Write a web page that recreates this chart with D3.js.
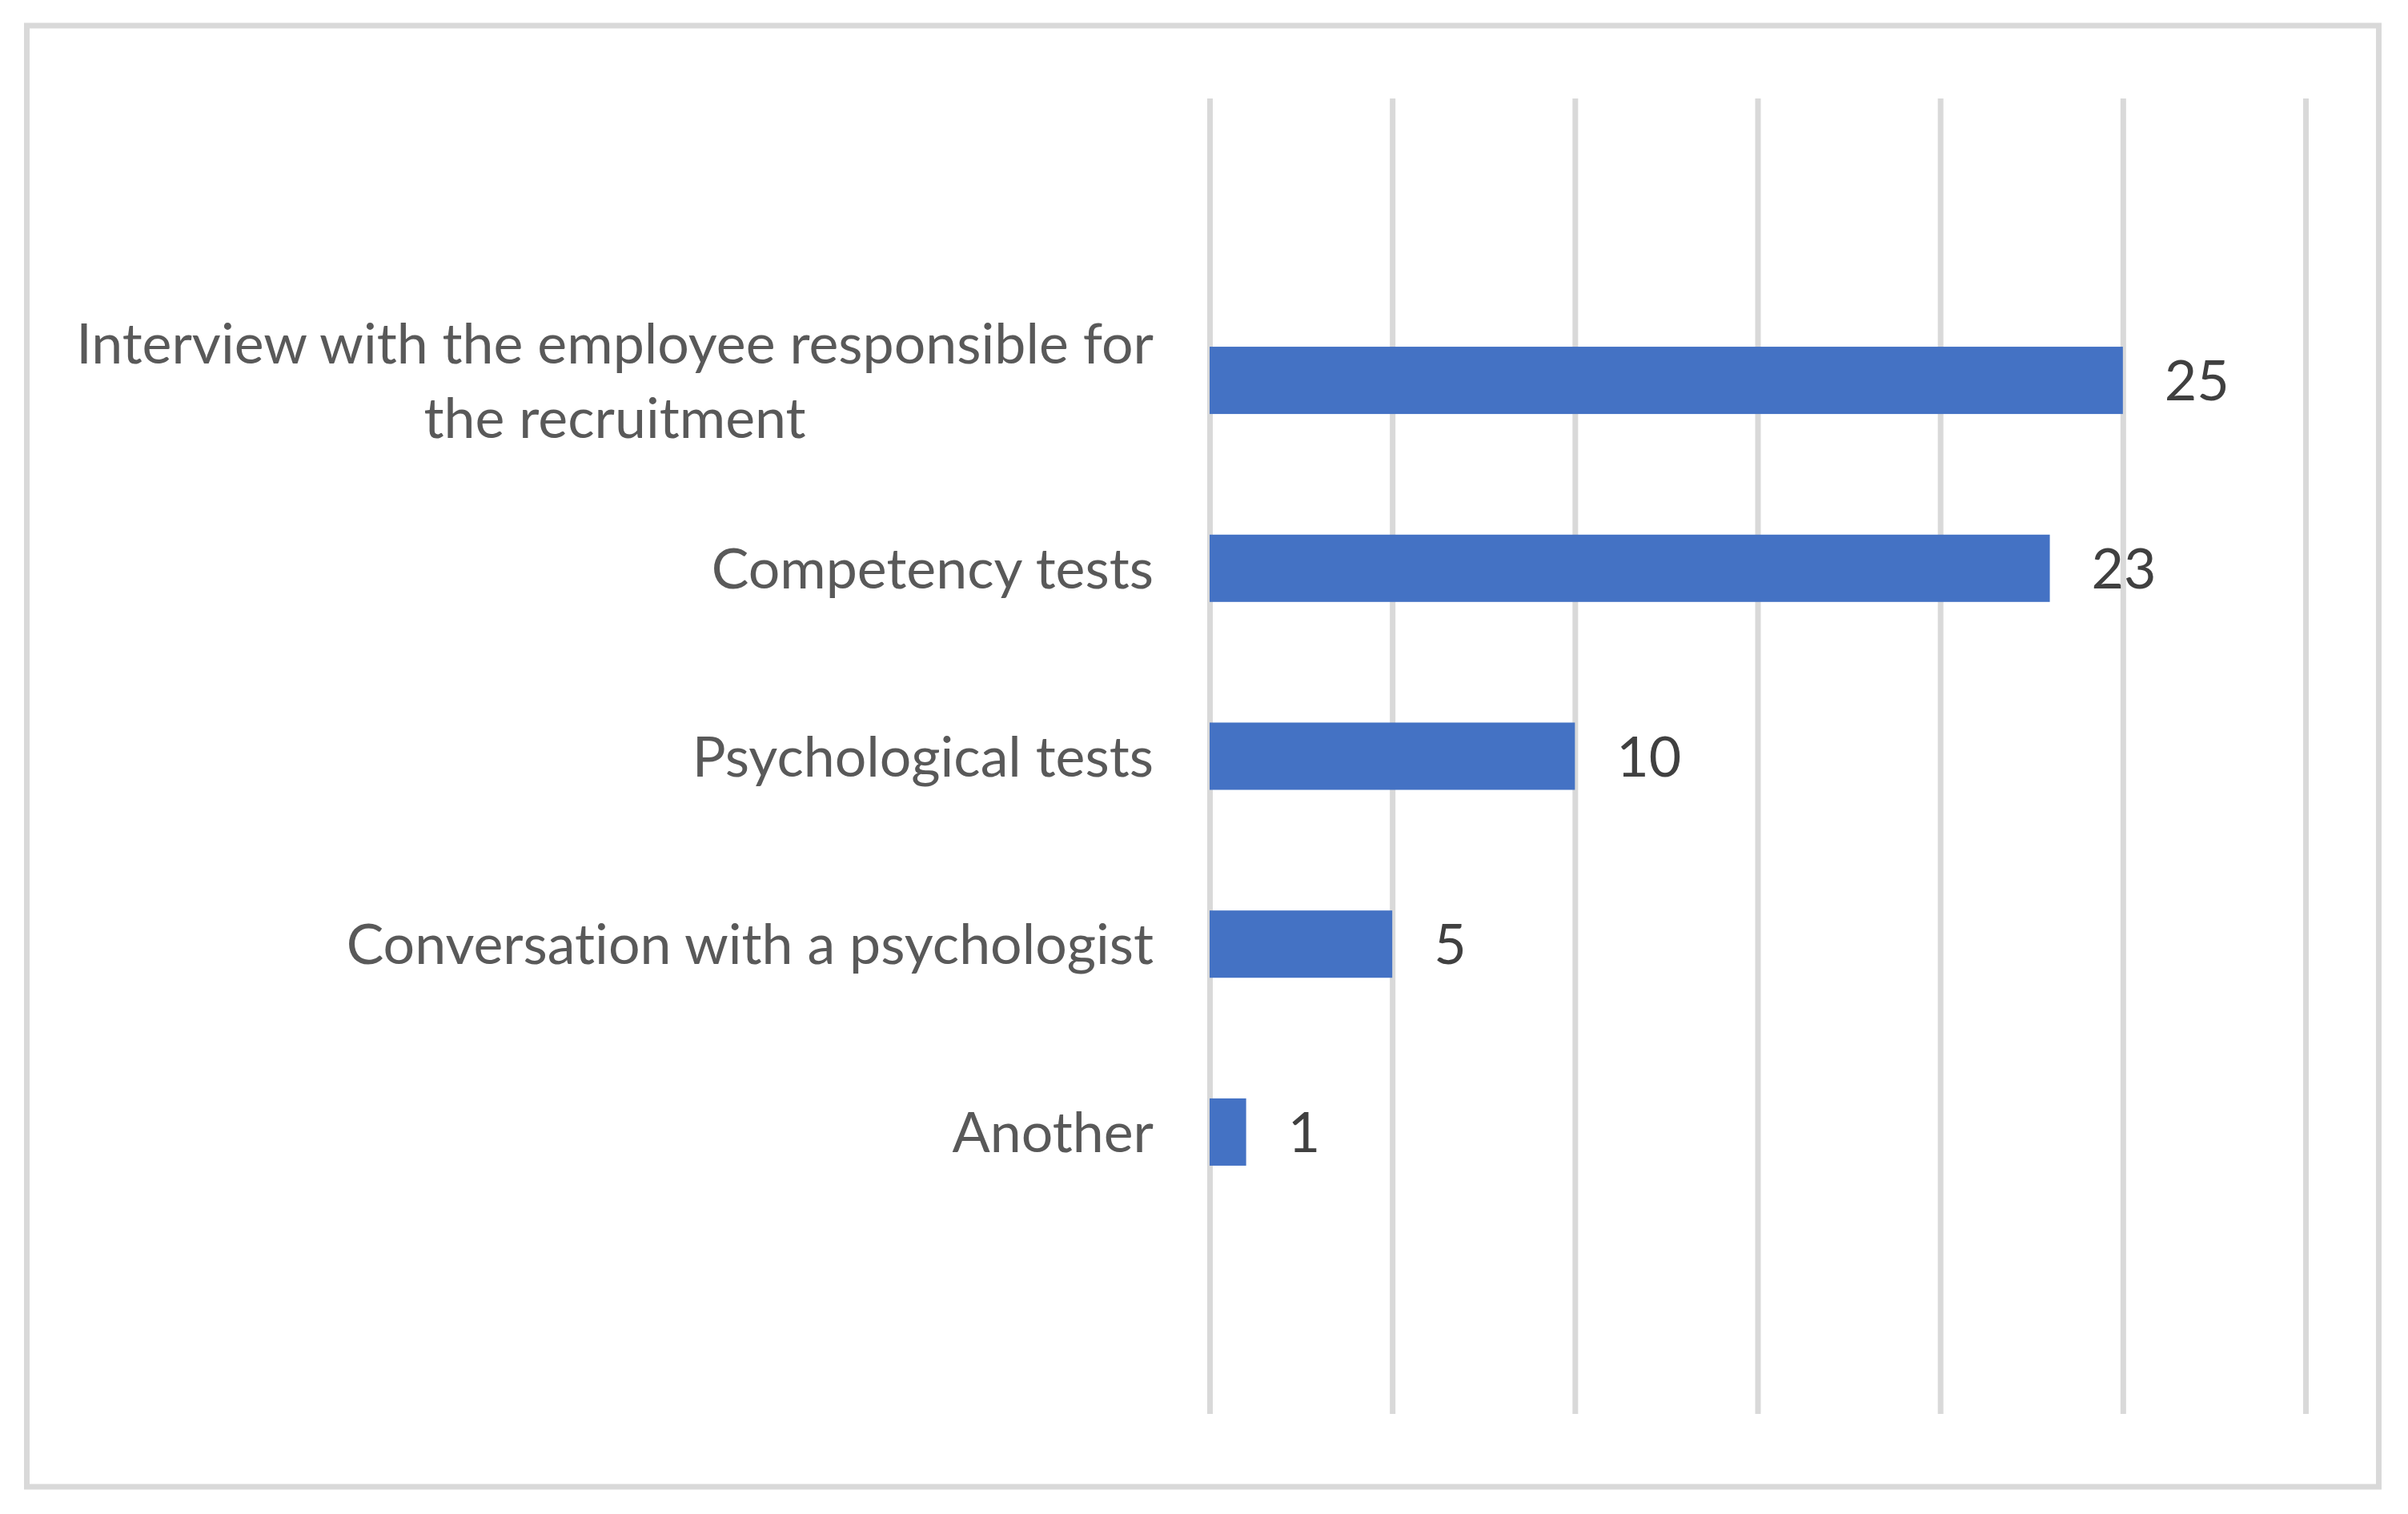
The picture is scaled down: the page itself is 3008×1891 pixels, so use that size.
<!DOCTYPE html>
<html>
<head>
<meta charset="utf-8">
<script src="https://cdn.jsdelivr.net/npm/d3@7"></script>
<style>
  html, body { margin: 0; padding: 0; background: #ffffff; }
  svg { display: block; }
  text { font-variant-ligatures: none; font-feature-settings: "liga" 0, "clig" 0; }
</style>
</head>
<body>
<svg id="chart" width="3008" height="1891"></svg>
<script>
const categories = [
  "Interview with the employee responsible for\nthe recruitment",
  "Competency tests",
  "Psychological tests",
  "Conversation with a psychologist",
  "Another"
];
const values = [25, 23, 10, 5, 1];
const tickValues = [0, 5, 10, 15, 20, 25, 30];

const W = 3008, H = 1891;
const svg = d3.select("#chart");
const FONT = "Lato, 'Open Sans', sans-serif";

// outer frame
svg.append("rect")
  .attr("x", 33.5).attr("y", 32)
  .attr("width", 2938).attr("height", 1825)
  .attr("fill", "#ffffff")
  .attr("stroke", "#d9d9d9").attr("stroke-width", 7);

const plot = { left: 1511, right: 2880, top: 123, bottom: 1766 };
const outerStep = (plot.bottom - plot.top) / 7;

const x = d3.scaleLinear().domain([0, 30]).range([plot.left, plot.right]);
const pi = 0.642;
const y = d3.scaleBand()
  .domain(categories)
  .range([plot.top + outerStep, plot.bottom - outerStep])
  .paddingInner(pi)
  .paddingOuter(pi / 2);

// gridlines via axis
const grid = svg.append("g")
  .attr("transform", `translate(0,${plot.bottom})`)
  .call(d3.axisBottom(x).tickValues(tickValues).tickSize(-(plot.bottom - plot.top)).tickFormat(""));
grid.select(".domain").remove();
grid.selectAll(".tick line").attr("stroke", "#d9d9d9").attr("stroke-width", 7);

// bars
svg.append("g").selectAll("rect")
  .data(categories)
  .join("rect")
  .attr("x", x(0))
  .attr("y", d => y(d))
  .attr("width", (d, i) => x(values[i]) - x(0))
  .attr("height", y.bandwidth())
  .attr("fill", "#4472C4");

// determine font size so the longest label line matches the reference width
const probe = svg.append("text").attr("font-family", FONT).attr("font-size", 74)
  .text("Interview with the employee responsible for");
const measured = probe.node().getComputedTextLength();
probe.remove();
let fs = 74 * 1346 / measured;
fs = Math.max(58, Math.min(76, fs));

// category labels
const labelRight = 1441;
const lineGap = 93;
const labels = svg.append("g");
categories.forEach((c) => {
  const lines = c.split("\n");
  const cy = y(c) + y.bandwidth() / 2;
  const t = labels.append("text")
    .attr("font-family", FONT)
    .attr("font-size", fs)
    .attr("fill", "#595959");
  const spans = lines.map((ln, i) => t.append("tspan")
    .attr("y", cy + (i - (lines.length - 1) / 2) * lineGap)
    .attr("dy", "0.36em")
    .text(ln));
  if (lines.length === 1) {
    t.attr("text-anchor", "end");
    spans[0].attr("x", labelRight);
  } else {
    const widths = spans.map(s => s.node().getComputedTextLength());
    const maxW = d3.max(widths);
    t.attr("text-anchor", "middle");
    spans.forEach(s => s.attr("x", labelRight - maxW / 2));
  }
});

// data labels
svg.append("g").selectAll("text")
  .data(categories)
  .join("text")
  .attr("x", (d, i) => x(values[i]) + 52)
  .attr("y", d => y(d) + y.bandwidth() / 2)
  .attr("dy", "0.36em")
  .attr("font-family", FONT)
  .attr("font-size", fs)
  .attr("fill", "#404040")
  .text((d, i) => values[i]);
</script>
</body>
</html>
